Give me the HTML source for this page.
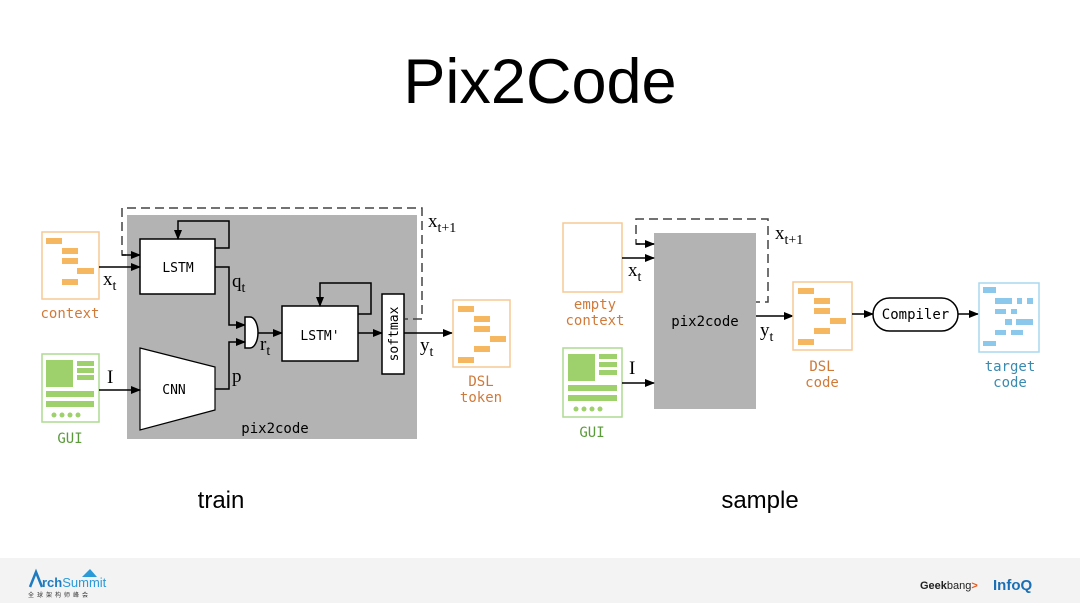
<!DOCTYPE html>
<html><head><meta charset="utf-8"><style>
html,body{margin:0;padding:0;background:#fff;width:1080px;height:603px;overflow:hidden}
svg{display:block}
.m{font-family:"DejaVu Sans Mono","Liberation Mono",monospace}
.s{font-family:"Liberation Serif",serif}
</style></head><body>
<svg width="1080" height="603" viewBox="0 0 1080 603" xmlns="http://www.w3.org/2000/svg">
<defs><marker id="a" markerWidth="10" markerHeight="8" refX="9" refY="4" orient="auto" markerUnits="userSpaceOnUse"><path d="M0,0 L10,4 L0,8 z" fill="#000"/></marker></defs>
<text x="540" y="103" font-family="Liberation Sans,sans-serif" font-size="63" text-anchor="middle">Pix2Code</text>
<text x="221" y="508" font-family="Liberation Sans,sans-serif" font-size="24" text-anchor="middle">train</text>
<text x="760" y="508" font-family="Liberation Sans,sans-serif" font-size="24" text-anchor="middle">sample</text>

<!-- LEFT -->
<rect x="127" y="215" width="290" height="224" fill="#b3b3b3"/>
<path d="M140,255 H122 V208 H422 V319 H405" fill="none" stroke="#444" stroke-width="1.5" stroke-dasharray="9,5"/>
<line x1="122" y1="255" x2="140" y2="255" stroke="#000" stroke-width="1.5" marker-end="url(#a)"/>
<rect x="140" y="239" width="75" height="55" fill="#fff" stroke="#000" stroke-width="1.5"/>
<text x="178" y="272" class="m" font-size="13" text-anchor="middle">LSTM</text>
<path d="M215,248 H229 V221 H178 V239" fill="none" stroke="#000" stroke-width="1.5" marker-end="url(#a)"/>
<rect x="42" y="232" width="57" height="67" fill="#fff" stroke="#f5c995" stroke-width="1.5"/>
<g fill="#f5b860"><rect x="46" y="238" width="16" height="6"/><rect x="62" y="248" width="16" height="6"/><rect x="62" y="258" width="16" height="6"/><rect x="77" y="268" width="17" height="6"/><rect x="62" y="279" width="16" height="6"/></g>
<line x1="99" y1="267" x2="140" y2="267" stroke="#000" stroke-width="1.5" marker-end="url(#a)"/>
<text x="103" y="285" class="s" font-size="19">x<tspan font-size="14" dy="5">t</tspan></text>
<text x="70" y="318" class="m" font-size="14" fill="#d07a3a" text-anchor="middle">context</text>
<path d="M215,267 H229 V325 H245" fill="none" stroke="#000" stroke-width="1.5" marker-end="url(#a)"/>
<text x="232" y="287" class="s" font-size="19">q<tspan font-size="14" dy="5">t</tspan></text>
<path d="M245,317 H250 A8,15.5 0 0 1 250,348 H245 Z" fill="#fff" stroke="#000" stroke-width="1.5"/>
<path d="M140,348 L215,367 L215,410 L140,430 Z" fill="#fff" stroke="#000" stroke-width="1.2"/>
<text x="174" y="394" class="m" font-size="13" text-anchor="middle">CNN</text>
<rect x="42" y="354" width="57" height="68" fill="#fff" stroke="#aedb91" stroke-width="1.5"/>
<g fill="#9ed06c"><rect x="46" y="360" width="27" height="27"/><rect x="77" y="361" width="17" height="5"/><rect x="77" y="368" width="17" height="5"/><rect x="77" y="375" width="17" height="5"/><rect x="46" y="391" width="48" height="6"/><rect x="46" y="401" width="48" height="6"/><circle cx="54" cy="415" r="2.5"/><circle cx="62" cy="415" r="2.5"/><circle cx="70" cy="415" r="2.5"/><circle cx="78" cy="415" r="2.5"/></g>
<text x="70" y="443" class="m" font-size="14" fill="#5a9a3a" text-anchor="middle">GUI</text>
<line x1="99" y1="390" x2="140" y2="390" stroke="#000" stroke-width="1.5" marker-end="url(#a)"/>
<text x="107" y="383" class="s" font-size="19">I</text>
<path d="M215,389 H229 V342 H245" fill="none" stroke="#000" stroke-width="1.5" marker-end="url(#a)"/>
<text x="232" y="382" class="s" font-size="19">p</text>
<line x1="258" y1="333" x2="282" y2="333" stroke="#000" stroke-width="1.5" marker-end="url(#a)"/>
<text x="260" y="350" class="s" font-size="19">r<tspan font-size="14" dy="5">t</tspan></text>
<rect x="282" y="306" width="76" height="55" fill="#fff" stroke="#000" stroke-width="1.5"/>
<text x="320" y="340" class="m" font-size="13" text-anchor="middle">LSTM'</text>
<path d="M358,314 H371 V283 H320 V306" fill="none" stroke="#000" stroke-width="1.5" marker-end="url(#a)"/>
<line x1="358" y1="333" x2="382" y2="333" stroke="#000" stroke-width="1.5" marker-end="url(#a)"/>
<rect x="382" y="294" width="22" height="80" fill="#fff" stroke="#000" stroke-width="1.5"/>
<text transform="translate(398,334) rotate(-90)" class="m" font-size="13" text-anchor="middle">softmax</text>
<line x1="404" y1="333" x2="452" y2="333" stroke="#000" stroke-width="1.5" marker-end="url(#a)"/>
<text x="420" y="351" class="s" font-size="19">y<tspan font-size="14" dy="5">t</tspan></text>
<text x="428" y="227" class="s" font-size="19">x<tspan font-size="14" dy="5">t+1</tspan></text>
<rect x="453" y="300" width="57" height="67" fill="#fff" stroke="#f5c995" stroke-width="1.5"/>
<g fill="#f5b860"><rect x="458" y="306" width="16" height="6"/><rect x="474" y="316" width="16" height="6"/><rect x="474" y="326" width="16" height="6"/><rect x="490" y="336" width="16" height="6"/><rect x="474" y="346" width="16" height="6"/><rect x="458" y="357" width="16" height="6"/></g>
<text x="481" y="386" class="m" font-size="14" fill="#d07a3a" text-anchor="middle">DSL</text>
<text x="481" y="402" class="m" font-size="14" fill="#d07a3a" text-anchor="middle">token</text>
<text x="275" y="433" class="m" font-size="14" text-anchor="middle">pix2code</text>

<!-- RIGHT -->
<rect x="654" y="233" width="102" height="176" fill="#b3b3b3"/>
<path d="M654,244 H636 V219 H768 V302 H756" fill="none" stroke="#444" stroke-width="1.5" stroke-dasharray="9,5"/>
<line x1="636" y1="244" x2="654" y2="244" stroke="#000" stroke-width="1.5" marker-end="url(#a)"/>
<rect x="563" y="223" width="59" height="69" fill="#fff" stroke="#f5c995" stroke-width="1.5"/>
<line x1="622" y1="258" x2="654" y2="258" stroke="#000" stroke-width="1.5" marker-end="url(#a)"/>
<text x="628" y="276" class="s" font-size="19">x<tspan font-size="14" dy="5">t</tspan></text>
<text x="775" y="239" class="s" font-size="19">x<tspan font-size="14" dy="5">t+1</tspan></text>
<text x="595" y="309" class="m" font-size="14" fill="#d07a3a" text-anchor="middle">empty</text>
<text x="595" y="325" class="m" font-size="14" fill="#d07a3a" text-anchor="middle">context</text>
<text x="705" y="326" class="m" font-size="14" text-anchor="middle">pix2code</text>
<rect x="563" y="348" width="59" height="69" fill="#fff" stroke="#aedb91" stroke-width="1.5"/>
<g fill="#9ed06c"><rect x="568" y="354" width="27" height="27"/><rect x="599" y="354" width="18" height="5"/><rect x="599" y="362" width="18" height="5"/><rect x="599" y="370" width="18" height="5"/><rect x="568" y="385" width="49" height="6"/><rect x="568" y="395" width="49" height="6"/><circle cx="576" cy="409" r="2.5"/><circle cx="584" cy="409" r="2.5"/><circle cx="592" cy="409" r="2.5"/><circle cx="600" cy="409" r="2.5"/></g>
<text x="592" y="437" class="m" font-size="14" fill="#5a9a3a" text-anchor="middle">GUI</text>
<line x1="622" y1="383" x2="654" y2="383" stroke="#000" stroke-width="1.5" marker-end="url(#a)"/>
<text x="629" y="374" class="s" font-size="19">I</text>
<line x1="756" y1="316" x2="793" y2="316" stroke="#000" stroke-width="1.5" marker-end="url(#a)"/>
<text x="760" y="336" class="s" font-size="19">y<tspan font-size="14" dy="5">t</tspan></text>
<rect x="793" y="282" width="59" height="68" fill="#fff" stroke="#f5c995" stroke-width="1.5"/>
<g fill="#f5b860"><rect x="798" y="288" width="16" height="6"/><rect x="814" y="298" width="16" height="6"/><rect x="814" y="308" width="16" height="6"/><rect x="830" y="318" width="16" height="6"/><rect x="814" y="328" width="16" height="6"/><rect x="798" y="339" width="16" height="6"/></g>
<text x="822" y="371" class="m" font-size="14" fill="#d07a3a" text-anchor="middle">DSL</text>
<text x="822" y="387" class="m" font-size="14" fill="#d07a3a" text-anchor="middle">code</text>
<line x1="852" y1="314" x2="873" y2="314" stroke="#000" stroke-width="1.5" marker-end="url(#a)"/>
<rect x="873" y="298" width="85" height="33" rx="16.5" fill="#fff" stroke="#000" stroke-width="1.5"/>
<text x="915.5" y="319" class="m" font-size="14" text-anchor="middle">Compiler</text>
<line x1="958" y1="314" x2="978" y2="314" stroke="#000" stroke-width="1.5" marker-end="url(#a)"/>
<rect x="979" y="283" width="60" height="69" fill="#fff" stroke="#a8d8f0" stroke-width="1.5"/>
<g fill="#8cc8ec"><rect x="983" y="287" width="13" height="6"/><rect x="995" y="298" width="17" height="6"/><rect x="1017" y="298" width="5" height="6"/><rect x="1027" y="298" width="6" height="6"/><rect x="995" y="309" width="11" height="5"/><rect x="1011" y="309" width="6" height="5"/><rect x="1005" y="319" width="7" height="6"/><rect x="1016" y="319" width="17" height="6"/><rect x="995" y="330" width="11" height="5"/><rect x="1011" y="330" width="12" height="5"/><rect x="983" y="341" width="13" height="5"/></g>
<text x="1010" y="371" class="m" font-size="14" fill="#3a8ab0" text-anchor="middle">target</text>
<text x="1010" y="387" class="m" font-size="14" fill="#3a8ab0" text-anchor="middle">code</text>

<!-- footer -->
<rect x="0" y="558" width="1080" height="45" fill="#f3f3f3"/>
<path d="M30,587 L36,572 L42,587" fill="none" stroke="#1e7bbf" stroke-width="2.5"/>
<text x="42" y="587" font-family="Liberation Sans,sans-serif" font-size="13" font-weight="bold" fill="#1e7bbf">rch<tspan fill="#2a9ad8" font-weight="normal">Summit</tspan></text>
<path d="M82,577 L90,569 L97,577 Z" fill="#2a9ad8"/>
<text x="28" y="597" font-family="Noto Sans CJK SC,sans-serif" font-size="6" fill="#333" letter-spacing="3">全球架构师峰会</text>
<text x="920" y="589" font-family="Liberation Sans,sans-serif" font-size="11" font-weight="bold" fill="#222">Geek<tspan font-weight="normal">bang</tspan><tspan fill="#e05a20">&gt;</tspan></text>
<text x="993" y="590" font-family="Liberation Sans,sans-serif" font-size="15" font-weight="bold" fill="#1a6fb5">InfoQ</text>
</svg>
</body></html>
